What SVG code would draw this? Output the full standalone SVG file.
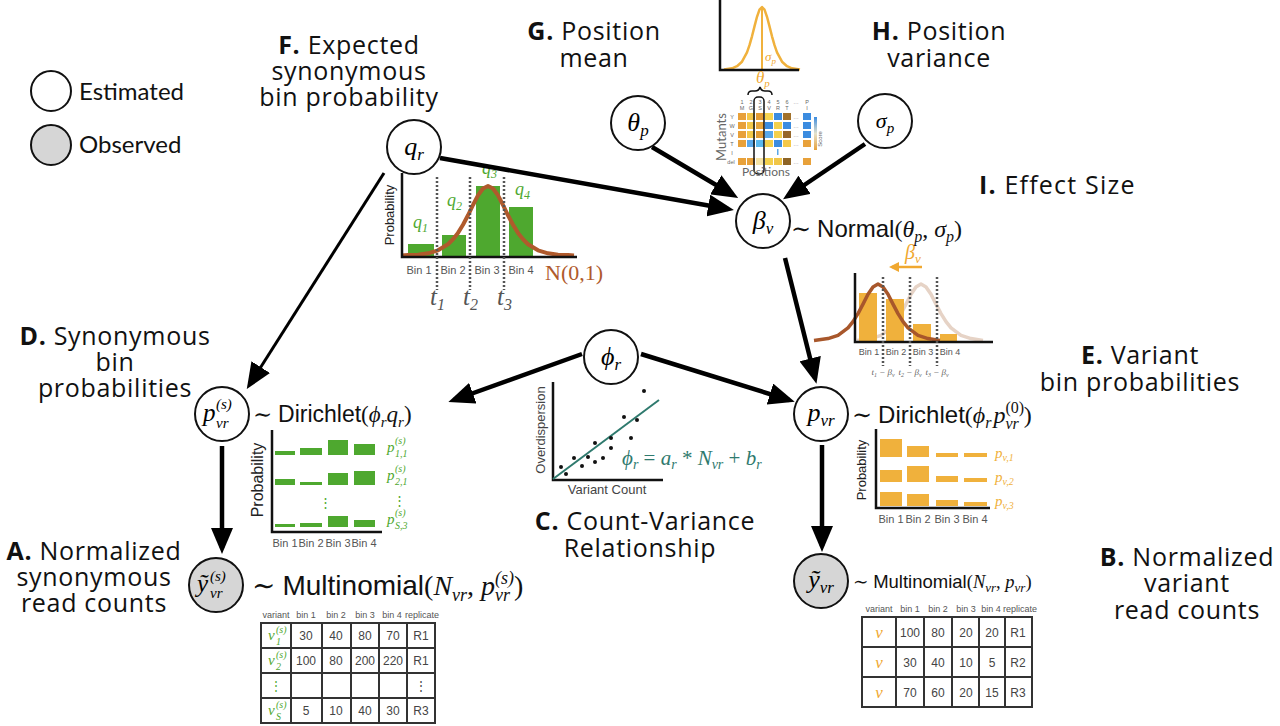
<svg xmlns="http://www.w3.org/2000/svg" width="1280" height="726" viewBox="0 0 1280 726">
<defs>
<marker id="ah" viewBox="0 0 26 22" refX="20" refY="11" markerWidth="26" markerHeight="22" markerUnits="userSpaceOnUse" orient="auto"><path d="M0,0 L26,11 L0,22 Z" fill="#000"/></marker>
<marker id="aho" viewBox="0 0 10 10" refX="7" refY="5" markerWidth="10" markerHeight="10" markerUnits="userSpaceOnUse" orient="auto"><path d="M0,0 L10,5 L0,10 Z" fill="#f0a830"/></marker>
<linearGradient id="score" x1="0" y1="0" x2="0" y2="1"><stop offset="0" stop-color="#3b8ce0"/><stop offset="0.5" stop-color="#e6e2cc"/><stop offset="1" stop-color="#e8a13a"/></linearGradient>
<style>
.lbl{font-family:"Open Sans",Lato,sans-serif;font-size:25px;letter-spacing:0.7px;fill:#111;text-anchor:middle}
.st{text-anchor:start}
.b{font-weight:bold}
.nd{fill:#fff;stroke:#111;stroke-width:2}
.ob{fill:#d6d6d6;stroke:#111;stroke-width:2}
.mi{font-family:"Liberation Serif","DejaVu Serif",serif;font-style:italic}
.rm{font-family:"Liberation Serif","DejaVu Serif",serif;font-style:normal}
.sf{font-family:"Liberation Sans",Arial,sans-serif}
.ax{stroke:#111;stroke-width:2.5;fill:none}
.dt{stroke:#555;stroke-width:2.5;stroke-dasharray:2 2;fill:none}
.sm{font-family:"Liberation Sans",Arial,sans-serif;fill:#555}
.gr{fill:#4ea82f}
.or{fill:#f0b13c}
.conn line{stroke:#000;stroke-width:4.5;marker-end:url(#ah)}
.cell{fill:none;stroke:#333;stroke-width:2}
.tc{font-family:"Liberation Sans",Arial,sans-serif;font-size:12px;fill:#444;text-anchor:middle}
.th{font-family:"Liberation Sans",Arial,sans-serif;font-size:9px;fill:#555;text-anchor:middle}
.hm{font-family:"Liberation Sans",Arial,sans-serif;font-size:5.5px;fill:#666;text-anchor:middle}
</style>
</defs>
<rect width="1280" height="726" fill="#fff"/>

<!-- legend -->
<g id="legend">
<circle class="nd" cx="51" cy="91" r="20"/>
<text x="79" y="100" font-family="Lato,'Open Sans',sans-serif" font-size="24" fill="#111">Estimated</text>
<circle class="ob" cx="51" cy="145" r="20"/>
<text x="79" y="153" font-family="Lato,'Open Sans',sans-serif" font-size="24" fill="#111">Observed</text>
</g>

<!-- section labels -->
<g id="labels">
<text class="lbl" x="349" y="54"><tspan class="b">F.</tspan> Expected</text>
<text class="lbl" x="349" y="80">synonymous</text>
<text class="lbl" x="349" y="106">bin probability</text>
<text class="lbl" x="594" y="40"><tspan class="b">G.</tspan> Position</text>
<text class="lbl" x="594" y="67">mean</text>
<text class="lbl" x="939" y="40"><tspan class="b">H.</tspan> Position</text>
<text class="lbl" x="939" y="67">variance</text>
<text class="lbl st" x="979" y="194" style="letter-spacing:1.2px"><tspan class="b">I.</tspan> Effect Size</text>
<text class="lbl" x="115" y="345"><tspan class="b">D.</tspan> Synonymous</text>
<text class="lbl" x="115" y="371">bin</text>
<text class="lbl" x="115" y="397">probabilities</text>
<text class="lbl" x="1140" y="364"><tspan class="b">E.</tspan> Variant</text>
<text class="lbl" x="1140" y="391">bin probabilities</text>
<text class="lbl" x="645" y="530"><tspan class="b">C.</tspan> Count-Variance</text>
<text class="lbl" x="640" y="557">Relationship</text>
<text class="lbl" x="94" y="560"><tspan class="b">A.</tspan> Normalized</text>
<text class="lbl" x="94" y="586">synonymous</text>
<text class="lbl" x="94" y="612">read counts</text>
<text class="lbl" x="1187" y="566"><tspan class="b">B.</tspan> Normalized</text>
<text class="lbl" x="1187" y="592">variant</text>
<text class="lbl" x="1187" y="619">read counts</text>
</g>

<!-- F chart -->
<g id="chart-f">
<rect class="gr" x="408" y="244" width="26" height="12"/>
<rect class="gr" x="442" y="235" width="24" height="21"/>
<rect class="gr" x="476" y="186" width="24" height="70"/>
<rect class="gr" x="509" y="207" width="24" height="49"/>
<polyline fill="none" stroke="#b05a2c" stroke-width="4" stroke-linejoin="round" points="402,255.6 408,255.1 418,254.7 428,253.3 438,250.3 448,244.2 453,239.3 458,232.9 463,224.8 468,215.3 473,205 478,195.4 483,188.5 488,186 493,188.5 498,195.4 503,205 508,215.3 513,224.8 518,232.9 523,239.3 528,244.2 538,250.3 548,253.3 558,254.7 568,255.1 574,255.6"/>
<path class="ax" d="M402,173 V257 H577"/>
<path class="dt" d="M437,177 V290 M470,177 V290 M504,177 V290"/>
<text transform="translate(394,215) rotate(-90)" text-anchor="middle" class="sf" font-size="13" fill="#222">Probability</text>
<g class="sm" font-size="11" text-anchor="middle">
<text x="419" y="274">Bin 1</text><text x="453" y="274">Bin 2</text><text x="487" y="274">Bin 3</text><text x="521" y="274">Bin 4</text>
</g>
<g class="mi" fill="#4ea82f" font-size="18">
<text x="413" y="228">q<tspan font-size="12" dy="4">1</tspan></text>
<text x="447" y="206">q<tspan font-size="12" dy="4">2</tspan></text>
<text x="482" y="174">q<tspan font-size="12" dy="4">3</tspan></text>
<text x="515" y="195">q<tspan font-size="12" dy="4">4</tspan></text>
</g>
<text x="545" y="280" class="rm" font-size="22" fill="#b05a2c">N(0,1)</text>
<g class="mi" fill="#555" font-size="25">
<text x="430" y="305">t<tspan font-size="16" dy="5">1</tspan></text>
<text x="463" y="305">t<tspan font-size="16" dy="5">2</tspan></text>
<text x="497" y="305">t<tspan font-size="16" dy="5">3</tspan></text>
</g>
</g>

<!-- top gaussian + heatmap -->
<g id="position-illustration">
<polyline fill="none" stroke="#f0b13c" stroke-width="2.5" stroke-linejoin="round" points="724,69.6 732,68.3 737,66.2 742,61.7 747,52.3 749.5,45.2 752,36.3 754.5,26.4 757,16.8 759.5,9.6 762,7 764.5,9.6 767,16.8 769.5,26.4 772,36.3 774.5,45.2 777,52.3 782,61.7 787,66.2 792,68.3 800,69.6"/>
<line x1="762" y1="9" x2="762" y2="70" stroke="#f0b13c" stroke-width="2"/>
<path class="ax" d="M720,0 V70 H799"/>
<text x="765" y="61" class="mi" font-size="13" fill="#f0a830">σ<tspan font-size="9" dy="3">p</tspan></text>
<text x="756" y="83" class="mi" font-size="17" fill="#f0a830">θ<tspan font-size="11" dy="4">p</tspan></text>
<path d="M748,95 q0,-4 4,-4 h3 q4,0 5,-4 q1,4 5,4 h3 q4,0 4,4" fill="none" stroke="#111" stroke-width="1.5"/>
<g class="hm">
<text x="742" y="104">1</text><text x="751" y="104">2</text><text x="760" y="104">3</text><text x="769" y="104">4</text><text x="778" y="104">5</text><text x="787" y="104">6</text><text x="796" y="104">…</text><text x="807" y="104">P</text>
<text x="742" y="110">M</text><text x="751" y="110">G</text><text x="760" y="110">S</text><text x="769" y="110">V</text><text x="778" y="110">R</text><text x="787" y="110">T</text><text x="807" y="110">I</text>
<text x="732" y="119">Y</text><text x="732" y="128">W</text><text x="732" y="137">V</text><text x="732" y="146">T</text><text x="732" y="155">I</text><text x="731" y="164">del</text>
<text x="796" y="119">…</text><text x="796" y="128">…</text><text x="796" y="137">…</text><text x="796" y="146">…</text><text x="796" y="164">…</text>
</g>
<g>
<rect x="738" y="113" width="8" height="7" fill="#e8a13a"/><rect x="747" y="113" width="8" height="7" fill="#f4c84a"/><rect x="756" y="113" width="8" height="7" fill="#e49c34"/><rect x="765" y="113" width="8" height="7" fill="#f6d450"/><rect x="774" y="113" width="8" height="7" fill="#3b8ce0"/><rect x="783" y="113" width="8" height="7" fill="#a2722c"/><rect x="803" y="113" width="8" height="7" fill="#3b8ce0"/>
<rect x="738" y="122" width="8" height="7" fill="#e8a13a"/><rect x="747" y="122" width="8" height="7" fill="#f4c84a"/><rect x="756" y="122" width="8" height="7" fill="#e8a63c"/><rect x="765" y="122" width="8" height="7" fill="#3b8ce0"/><rect x="774" y="122" width="8" height="7" fill="#f4d04c"/><rect x="783" y="122" width="8" height="7" fill="#3b8ce0"/><rect x="803" y="122" width="8" height="7" fill="#3b8ce0"/>
<rect x="738" y="131" width="8" height="7" fill="#e8a13a"/><rect x="747" y="131" width="8" height="7" fill="#f4c84a"/><rect x="756" y="131" width="8" height="7" fill="#e49c34"/><rect x="765" y="131" width="8" height="7" fill="#5aa8ea"/><rect x="774" y="131" width="8" height="7" fill="#f4d04c"/><rect x="783" y="131" width="8" height="7" fill="#96672a"/><rect x="803" y="131" width="8" height="7" fill="#3b8ce0"/>
<rect x="738" y="140" width="8" height="7" fill="#e8a13a"/><rect x="747" y="140" width="8" height="7" fill="#5aa8ea"/><rect x="756" y="140" width="8" height="7" fill="#5ab8ee"/><rect x="765" y="140" width="8" height="7" fill="#f4d04c"/><rect x="774" y="140" width="8" height="7" fill="#3b8ce0"/><rect x="783" y="140" width="8" height="7" fill="#f4c84a"/><rect x="803" y="140" width="8" height="7" fill="#e8a13a"/>
<rect x="777" y="149" width="1.5" height="6" fill="#5aa8ea"/>
<rect x="738" y="158" width="8" height="7" fill="#e8a13a"/><rect x="747" y="158" width="8" height="7" fill="#e8a13a"/><rect x="756" y="158" width="8" height="7" fill="#f6e3a4"/><rect x="765" y="158" width="8" height="7" fill="#f4d04c"/><rect x="774" y="158" width="8" height="7" fill="#f0c648"/><rect x="783" y="158" width="8" height="7" fill="#8e6426"/><rect x="803" y="158" width="8" height="7" fill="#e8a13a"/>
</g>
<rect x="754" y="97" width="10" height="77" rx="4" fill="none" stroke="#111" stroke-width="1.5"/>
<rect x="814" y="117" width="3" height="33" fill="url(#score)"/>
<text transform="translate(822,139) rotate(-90)" text-anchor="middle" class="sf" font-size="6" fill="#666">Score</text>
<text transform="translate(726,137) rotate(-90)" text-anchor="middle" font-family="Lato,'Open Sans',sans-serif" font-size="13" fill="#666">Mutants</text>
<text x="766" y="176" text-anchor="middle" font-family="Lato,'Open Sans',sans-serif" font-size="12" fill="#666">Positions</text>
</g>

<!-- beta chart -->
<g id="chart-beta">
<polyline fill="none" stroke="#e6d3c6" stroke-width="3.5" stroke-linejoin="round" points="857,340.4 871,338.6 881,335.3 891,327.9 896,321.6 901,313.6 906,304.1 911,294.3 916,286.9 921,284 926,286.9 931,294.3 936,304.1 941,313.6 946,321.6 951,327.9 961,335.3 971,338.6 983,340.4"/>
<rect class="or" x="859" y="293" width="18" height="48"/>
<rect class="or" x="886" y="299" width="18" height="42"/>
<rect class="or" x="913" y="324" width="18" height="17"/>
<rect class="or" x="940" y="334" width="17" height="7"/>
<polyline fill="none" stroke="#a8572b" stroke-width="3.5" stroke-linejoin="round" points="814,340.4 828,338.6 838,335.3 848,327.9 853,321.6 858,313.6 863,304.1 868,294.3 873,286.9 878,284 883,286.9 888,294.3 893,304.1 898,313.6 903,321.6 908,327.9 918,335.3 928,338.6 940,340.4"/>
<path class="ax" d="M855,273 V342 H993"/>
<path class="dt" d="M883,277 V366 M910,277 V366 M937,277 V366"/>
<line x1="922" y1="267" x2="892" y2="267" stroke="#f0a830" stroke-width="2.5" marker-end="url(#aho)"/>
<text x="905" y="259" class="mi" font-size="20" fill="#f0a830">β<tspan font-size="13" dy="4">v</tspan></text>
<g class="sm" font-size="9" text-anchor="middle">
<text x="869" y="355">Bin 1</text><text x="896" y="355">Bin 2</text><text x="923" y="355">Bin 3</text><text x="950" y="355">Bin 4</text>
</g>
<g class="mi" font-size="9" fill="#666" text-anchor="middle">
<text x="883" y="375">t<tspan font-size="6" dy="2">1</tspan><tspan dy="-2"> − β</tspan><tspan font-size="6" dy="2">v</tspan></text>
<text x="910" y="375">t<tspan font-size="6" dy="2">2</tspan><tspan dy="-2"> − β</tspan><tspan font-size="6" dy="2">v</tspan></text>
<text x="937" y="375">t<tspan font-size="6" dy="2">3</tspan><tspan dy="-2"> − β</tspan><tspan font-size="6" dy="2">v</tspan></text>
</g>
</g>

<!-- D chart -->
<g id="chart-d">
<rect class="gr" x="275" y="451" width="20" height="4"/><rect class="gr" x="300" y="448" width="22" height="7"/><rect class="gr" x="328" y="440" width="20" height="15"/><rect class="gr" x="354" y="444" width="21" height="11"/>
<rect class="gr" x="275" y="479" width="20" height="6"/><rect class="gr" x="300" y="482" width="22" height="3"/><rect class="gr" x="328" y="473" width="20" height="12"/><rect class="gr" x="354" y="471" width="21" height="14"/>
<rect class="gr" x="275" y="524" width="20" height="3"/><rect class="gr" x="300" y="523" width="22" height="4"/><rect class="gr" x="328" y="516" width="20" height="11"/><rect class="gr" x="354" y="520" width="21" height="7"/>
<path class="ax" d="M272,430 V532 H382"/>
<text x="325" y="507" class="rm" font-size="13" fill="#4ea82f" text-anchor="middle">⋮</text>
<text transform="translate(263,480) rotate(-90)" text-anchor="middle" class="sf" font-size="16" fill="#222">Probability</text>
<g class="mi" fill="#4ea82f">
<text x="387" y="452" font-size="15">p</text><text x="395" y="444" font-size="10">(s)</text><text x="395" y="457" font-size="10">1,1</text>
<text x="387" y="480" font-size="15">p</text><text x="395" y="472" font-size="10">(s)</text><text x="395" y="485" font-size="10">2,1</text>
<text x="393" y="505" class="rm" font-size="13">⋮</text>
<text x="387" y="524" font-size="15">p</text><text x="395" y="516" font-size="10">(s)</text><text x="395" y="529" font-size="10">S,3</text>
</g>
<g class="sm" font-size="11" text-anchor="middle">
<text x="285" y="547">Bin 1</text><text x="311" y="547">Bin 2</text><text x="338" y="547">Bin 3</text><text x="364" y="547">Bin 4</text>
</g>
</g>

<!-- E chart -->
<g id="chart-e">
<rect class="or" x="880" y="439" width="22" height="18"/><rect class="or" x="907" y="446" width="22" height="11"/><rect class="or" x="936" y="453" width="22" height="4"/><rect class="or" x="964" y="453" width="23" height="4"/>
<rect class="or" x="880" y="470" width="22" height="12"/><rect class="or" x="907" y="466" width="22" height="16"/><rect class="or" x="936" y="476" width="22" height="6"/><rect class="or" x="964" y="478" width="23" height="4"/>
<rect class="or" x="880" y="492" width="22" height="14"/><rect class="or" x="907" y="494" width="22" height="12"/><rect class="or" x="936" y="500" width="22" height="6"/><rect class="or" x="964" y="502" width="23" height="4"/>
<path class="ax" d="M876,429 V508 H990"/>
<text transform="translate(866,470) rotate(-90)" text-anchor="middle" class="sf" font-size="13" fill="#222">Probability</text>
<g class="mi" fill="#f0b13c" font-size="15">
<text x="995" y="458">p<tspan font-size="10" dy="3">v,1</tspan></text>
<text x="995" y="482">p<tspan font-size="10" dy="3">v,2</tspan></text>
<text x="995" y="506">p<tspan font-size="10" dy="3">v,3</tspan></text>
</g>
<g class="sm" font-size="11" text-anchor="middle">
<text x="891" y="523">Bin 1</text><text x="918" y="523">Bin 2</text><text x="947" y="523">Bin 3</text><text x="975" y="523">Bin 4</text>
</g>
</g>

<!-- C scatter -->
<g id="chart-c">
<path class="ax" d="M553,382 V480 H663"/>
<line x1="553" y1="479" x2="659" y2="400" stroke="#2f7a6e" stroke-width="2"/>
<g fill="#111">
<circle cx="561" cy="467" r="2"/><circle cx="566" cy="474" r="2"/><circle cx="574" cy="458" r="2"/><circle cx="582" cy="466" r="2"/><circle cx="588" cy="457" r="2"/><circle cx="595" cy="462" r="2"/><circle cx="595" cy="443" r="2"/><circle cx="603" cy="458" r="2"/><circle cx="611" cy="438" r="2"/><circle cx="611" cy="448" r="2"/><circle cx="624" cy="417" r="2"/><circle cx="631" cy="438" r="2"/><circle cx="637" cy="420" r="2"/><circle cx="644" cy="391" r="2"/>
</g>
<text transform="translate(545,430) rotate(-90)" text-anchor="middle" class="sf" font-size="13" fill="#444">Overdispersion</text>
<text x="607" y="494" text-anchor="middle" class="sf" font-size="13" fill="#444">Variant Count</text>
<text x="622" y="465" class="mi" font-size="21" fill="#2f7a6e">ϕ<tspan font-size="14" dy="4">r</tspan><tspan class="rm" dy="-4"> = </tspan>a<tspan font-size="14" dy="4">r</tspan><tspan class="rm" dy="-4"> * </tspan>N<tspan font-size="14" dy="4">vr</tspan><tspan class="rm" dy="-4"> + </tspan>b<tspan font-size="14" dy="4">r</tspan></text>
</g>

<!-- formulas -->
<g id="formulas" fill="#111">
<text x="791" y="237" font-size="24"><tspan class="rm">∼ </tspan><tspan class="sf">Normal</tspan><tspan class="rm">(</tspan><tspan class="mi">θ</tspan><tspan class="mi" font-size="16" dy="5">p</tspan><tspan class="rm" dy="-5">, </tspan><tspan class="mi">σ</tspan><tspan class="mi" font-size="16" dy="5">p</tspan><tspan class="rm" dy="-5">)</tspan></text>
<text x="253" y="422" font-size="23"><tspan class="rm">∼ </tspan><tspan class="sf">Dirichlet</tspan><tspan class="rm">(</tspan><tspan class="mi">ϕ</tspan><tspan class="mi" font-size="15" dy="5">r</tspan><tspan class="mi" dy="-5">q</tspan><tspan class="mi" font-size="15" dy="5">r</tspan><tspan class="rm" dy="-5">)</tspan></text>
<text x="852" y="423" font-size="24"><tspan class="rm">∼ </tspan><tspan class="sf">Dirichlet</tspan><tspan class="rm">(</tspan><tspan class="mi">ϕ</tspan><tspan class="mi" font-size="16" dy="5">r</tspan><tspan class="mi" dx="2" dy="-5">p</tspan><tspan class="rm" font-size="16" dy="-10">(0)</tspan><tspan class="mi" font-size="16" dx="-18.6" dy="16">vr</tspan><tspan class="rm" dx="5" dy="-6">)</tspan></text>
<text x="252" y="595" font-size="28"><tspan class="rm">∼ </tspan><tspan class="sf">Multinomial</tspan><tspan class="rm">(</tspan><tspan class="mi">N</tspan><tspan class="mi" font-size="18" dy="6">vr</tspan><tspan class="rm" dy="-6">, </tspan><tspan class="mi">p</tspan><tspan class="mi" font-size="18" dy="-11">(s)</tspan><tspan class="mi" font-size="18" dx="-19" dy="17">vr</tspan><tspan class="rm" dx="4" dy="-6">)</tspan></text>
<text x="853" y="588" font-size="18.5"><tspan class="rm">∼ </tspan><tspan class="sf">Multinomial</tspan><tspan class="rm">(</tspan><tspan class="mi">N</tspan><tspan class="mi" font-size="13" dy="4">vr</tspan><tspan class="rm" dy="-4">, </tspan><tspan class="mi">p</tspan><tspan class="mi" font-size="13" dy="4">vr</tspan><tspan class="rm" dy="-4">)</tspan></text>
</g>

<!-- tables -->
<g id="table-a">
<g class="th"><text x="276" y="618">variant</text><text x="306" y="618">bin 1</text><text x="336" y="618">bin 2</text><text x="365" y="618">bin 3</text><text x="392" y="618">bin 4</text><text x="422" y="618">replicate</text></g>
<path class="cell" d="M261,623 H435 V723 H261 Z M261,648 H435 M261,673 H435 M261,698 H435 M291,623 V723 M322,623 V723 M351,623 V723 M379,623 V723 M407,623 V723"/>
<g class="tc">
<text x="306" y="640">30</text><text x="336" y="640">40</text><text x="365" y="640">80</text><text x="393" y="640">70</text><text x="421" y="640">R1</text>
<text x="306" y="665">100</text><text x="336" y="665">80</text><text x="365" y="665">200</text><text x="393" y="665">220</text><text x="421" y="665">R1</text>
<text x="421" y="690">⋮</text>
<text x="306" y="715">5</text><text x="336" y="715">10</text><text x="365" y="715">40</text><text x="393" y="715">30</text><text x="421" y="715">R3</text>
</g>
<g class="mi" fill="#4ea82f">
<text x="268" y="640" font-size="15">v</text><text x="276" y="633" font-size="10">(s)</text><text x="276" y="645" font-size="10">1</text>
<text x="268" y="665" font-size="15">v</text><text x="276" y="658" font-size="10">(s)</text><text x="276" y="670" font-size="10">2</text>
<text x="276" y="690" class="rm" font-size="12" text-anchor="middle">⋮</text>
<text x="268" y="715" font-size="15">v</text><text x="276" y="708" font-size="10">(s)</text><text x="276" y="720" font-size="10">S</text>
</g>
</g>

<g id="table-b">
<g class="th"><text x="879" y="612">variant</text><text x="910" y="612">bin 1</text><text x="938" y="612">bin 2</text><text x="966" y="612">bin 3</text><text x="991" y="612">bin 4</text><text x="1020" y="612">replicate</text></g>
<path class="cell" d="M862,617 H1032 V707 H862 Z M862,647 H1032 M862,677 H1032 M896,617 V707 M924,617 V707 M952,617 V707 M979,617 V707 M1005,617 V707"/>
<g class="tc">
<text x="910" y="637">100</text><text x="938" y="637">80</text><text x="966" y="637">20</text><text x="992" y="637">20</text><text x="1018" y="637">R1</text>
<text x="910" y="667">30</text><text x="938" y="667">40</text><text x="966" y="667">10</text><text x="992" y="667">5</text><text x="1018" y="667">R2</text>
<text x="910" y="697">70</text><text x="938" y="697">60</text><text x="966" y="697">20</text><text x="992" y="697">15</text><text x="1018" y="697">R3</text>
</g>
<g class="mi" fill="#f0a830" font-size="17" text-anchor="middle">
<text x="879" y="638">ν</text><text x="879" y="668">ν</text><text x="879" y="698">ν</text>
</g>
</g>

<!-- connectors -->
<g id="connectors" class="conn">
<line x1="440" y1="158" x2="728" y2="209"/>
<line x1="384" y1="173" x2="250" y2="384" style="stroke-width:3"/>
<line x1="652" y1="147" x2="733" y2="195"/>
<line x1="865" y1="144" x2="788" y2="196"/>
<line x1="785" y1="258" x2="815" y2="378"/>
<line x1="582" y1="354" x2="454" y2="400"/>
<line x1="641" y1="354" x2="789" y2="400"/>
<line x1="222" y1="446" x2="222" y2="548"/>
<line x1="822" y1="445" x2="822" y2="546"/>
</g>

<!-- nodes -->
<g id="node-q"><circle class="nd" cx="414" cy="147" r="27"/><text x="414" y="155" class="mi" font-size="26" text-anchor="middle">q<tspan font-size="17" dy="5">r</tspan></text></g>
<g id="node-theta"><circle class="nd" cx="638" cy="123" r="27"/><text x="638" y="131" class="mi" font-size="26" text-anchor="middle">θ<tspan font-size="17" dy="5">p</tspan></text></g>
<g id="node-sigma"><circle class="nd" cx="885" cy="121" r="27"/><text x="885" y="128" class="mi" font-size="22" text-anchor="middle">σ<tspan font-size="15" dy="5">p</tspan></text></g>
<g id="node-beta"><circle class="nd" cx="763" cy="221" r="27"/><text x="763" y="229" class="mi" font-size="26" text-anchor="middle">β<tspan font-size="17" dy="5">v</tspan></text></g>
<g id="node-phi"><circle class="nd" cx="611" cy="357" r="27"/><text x="611" y="365" class="mi" font-size="26" text-anchor="middle">ϕ<tspan font-size="17" dy="5">r</tspan></text></g>
<g id="node-ps"><circle class="nd" cx="222" cy="414" r="27"/><text x="203" y="421" class="mi" font-size="25">p</text><text x="216" y="409" class="mi" font-size="15">(s)</text><text x="216" y="428" class="mi" font-size="15">vr</text></g>
<g id="node-pvr"><circle class="nd" cx="821" cy="414" r="27"/><text x="821" y="421" class="mi" font-size="26" text-anchor="middle">p<tspan font-size="17" dy="5">vr</tspan></text></g>
<g id="node-ys"><circle class="ob" cx="216" cy="585" r="27"/><text x="197" y="592" class="mi" font-size="25">ỹ</text><text x="210" y="581" class="mi" font-size="15">(s)</text><text x="210" y="598" class="mi" font-size="15">vr</text></g>
<g id="node-yvr"><circle class="ob" cx="821" cy="581" r="27"/><text x="821" y="588" class="mi" font-size="26" text-anchor="middle">ỹ<tspan font-size="17" dy="5">vr</tspan></text></g>
</svg>
